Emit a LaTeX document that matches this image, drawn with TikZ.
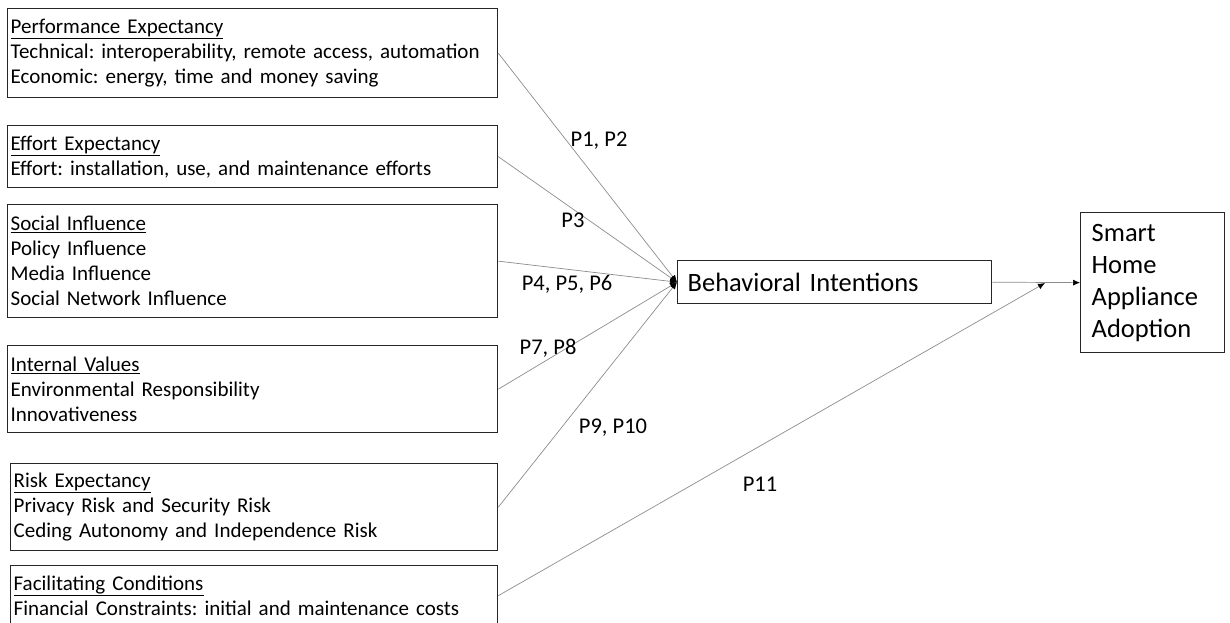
\documentclass[tikz,border=0pt]{standalone}
\usepackage{fontspec}
\setmainfont{Carlito}
\usetikzlibrary{arrows.meta}
\frenchspacing
\begin{document}
\begin{tikzpicture}[x=1pt,y=-1pt,
  factor/.style={draw=black!85, line width=1.3pt, anchor=north west, align=left,
    inner xsep=3pt, inner ysep=0pt, text width=#1-6pt, minimum width=#1,
    font=\fontsize{21}{25}\selectfont},
  outcome/.style={draw=black!85, line width=1.3pt, anchor=north west, align=left,
    inner ysep=0pt},
  conn/.style={draw=black!45, line width=0.7pt, -{Latex[length=7pt,width=6pt,black]}},
  plabel/.style={font=\fontsize{22.5}{27}\selectfont, inner sep=0pt}]
\useasboundingbox (0,0) rectangle (1230,623);
\clip (0,0) rectangle (1230,623);

% determinant boxes
\node[factor=490pt, minimum height=89pt] (pe) at (7,8)
  {\underline{Performance Expectancy}\\
   Technical: interoperability, remote access, automation\\
   Economic: energy, time and money saving};
\node[factor=490pt, minimum height=62pt] (ee) at (7,125)
  {\underline{Effort Expectancy}\\
   Effort: installation, use, and maintenance efforts};
\node[factor=490pt, minimum height=113pt] (si) at (7,204)
  {\underline{Social Influence}\\
   Policy Influence\\
   Media Influence\\
   Social Network Influence};
\node[factor=490pt, minimum height=87pt] (iv) at (7,345)
  {\underline{Internal Values}\\
   Environmental Responsibility\\
   Innovativeness};
\node[factor=487pt, minimum height=87pt] (re) at (10,463)
  {\underline{Risk Expectancy}\\
   Privacy Risk and Security Risk\\
   Ceding Autonomy and Independence Risk};
\node[factor=487pt, minimum height=60pt] (fc) at (10,565)
  {\underline{Facilitating Conditions}\\
   Financial Constraints: initial and maintenance costs};

% intention and adoption boxes
\node[outcome, inner xsep=10pt, text width=294pt, minimum width=314pt, minimum height=43pt,
  font=\fontsize{26.5}{31}\selectfont] (bi) at (677,260) {Behavioral Intentions};
\node[outcome, inner xsep=11pt, text width=122pt, minimum width=144pt, minimum height=140pt,
  font=\fontsize{26.5}{32}\selectfont] (sh) at (1080,212)
  {Smart\\ Home\\ Appliance\\ Adoption};

% paths
\coordinate (join) at (1045,283);
\draw[conn] (pe.east) -- (bi.west);
\draw[conn] (ee.east) -- (bi.west);
\draw[conn] (si.east) -- (bi.west);
\draw[conn] (iv.east) -- (bi.west);
\draw[conn] (re.east) -- (bi.west);
\draw[conn] (fc.east) -- (join);
\draw[conn] (bi.east) -- (sh.west);

% proposition labels
\node[plabel] (l1) at (599,141) {P1, P2};
\node[plabel] (l2) at (573,220) {P3};
\node[plabel] (l3) at (567,284) {P4, P5, P6};
\node[plabel] (l4) at (548,348) {P7, P8};
\node[plabel] (l5) at (613,428) {P9, P10};
\node[plabel] (l6) at (760,484) {P11};
\end{tikzpicture}
\end{document}
